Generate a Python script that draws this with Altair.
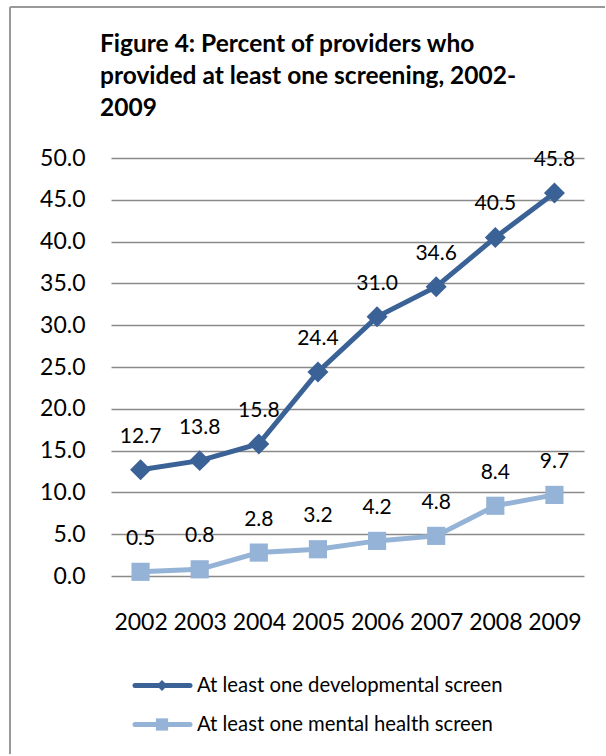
import altair as alt
import pandas as pd

# Survey years and the share of providers (%) offering each screening type
years = ["2002", "2003", "2004", "2005", "2006", "2007", "2008", "2009"]
developmental = [12.7, 13.8, 15.8, 24.4, 31.0, 34.6, 40.5, 45.8]
mental_health = [0.5, 0.8, 2.8, 3.2, 4.2, 4.8, 8.4, 9.7]

series_names = ["At least one developmental screen", "At least one mental health screen"]
series_colors = ["#3B6296", "#95B3D7"]
series_shapes = ["diamond", "square"]
y_ticks = [0, 5, 10, 15, 20, 25, 30, 35, 40, 45, 50]

title_lines = [
    "Figure 4: Percent of providers who",
    "provided at least one screening, 2002-",
    "2009",
]

FONT = "Lato"

rows = []
for name, vals in zip(series_names, [developmental, mental_health]):
    for yr, v in zip(years, vals):
        rows.append({"year": yr, "series": name, "value": v})
df = pd.DataFrame(rows)
legend_df = pd.DataFrame({"series": series_names})

color = alt.Color("series:N", scale=alt.Scale(domain=series_names, range=series_colors), legend=None)
shape = alt.Shape("series:N", scale=alt.Scale(domain=series_names, range=series_shapes), legend=None)

x = alt.X(
    "year:O",
    sort=years,
    axis=alt.Axis(
        title=None, labelAngle=0, ticks=False, domain=False, grid=False,
        labelPadding=35, labelFontSize=23, labelFont=FONT, labelColor="black",
    ),
)
y = alt.Y(
    "value:Q",
    scale=alt.Scale(domain=[0, 50], nice=False),
    axis=alt.Axis(
        title=None, values=y_ticks, format=".1f", ticks=False, domain=False,
        grid=True, gridColor="#8a8a8a", gridWidth=1.5,
        labelPadding=26, labelFontSize=23, labelFont=FONT, labelColor="black",
    ),
)

base = alt.Chart(df).encode(x=x, y=y)
lines = base.mark_line(strokeWidth=5).encode(color=color)
points = base.mark_point(filled=True, opacity=1).encode(
    color=color,
    shape=shape,
    size=alt.Size("series:N", scale=alt.Scale(domain=series_names, range=[440, 330]), legend=None),
)
labels = base.mark_text(
    dy=-27, baseline="alphabetic", align="center", fontSize=21, font=FONT, color="black"
).encode(text=alt.Text("value:Q", format=".1f"))

plot = alt.layer(lines, points, labels).properties(
    width=473,
    height=418,
    title=alt.TitleParams(
        text=title_lines, anchor="start", frame="group", dx=-11, offset=26,
        fontSize=24.5, font=FONT, fontWeight="bold", lineHeight=32, color="black",
    ),
)

# Legend drawn as its own small panel: line sample, marker and label per series
ly = alt.Y("series:N", sort=series_names,
           scale=alt.Scale(domain=series_names, type="point", padding=0.5), axis=None)
leg_line = alt.Chart(legend_df).mark_rule(strokeWidth=5, strokeCap="round").encode(
    x=alt.value(24), x2=alt.value(79), y=ly, color=color
)
leg_point = alt.Chart(legend_df).mark_point(filled=True, opacity=1).encode(
    x=alt.value(51), y=ly, color=color, shape=shape,
    size=alt.Size("series:N", scale=alt.Scale(domain=series_names, range=[120, 150]), legend=None),
)
leg_text = alt.Chart(legend_df).mark_text(
    align="left", baseline="middle", fontSize=20.3, font=FONT, color="black"
).encode(x=alt.value(86), y=ly, text="series:N")

# Chart-area frame (left and top edges), laid out from the legend panel's origin
one_row = alt.Data(values=[{}])
frame_left = alt.Chart(one_row).mark_rule(color="#999999", strokeWidth=2).encode(
    x=alt.value(-101), y=alt.value(-659), y2=alt.value(88)
)
frame_top = alt.Chart(one_row).mark_rule(color="#999999", strokeWidth=2).encode(
    x=alt.value(-101), x2=alt.value(494), y=alt.value(-659)
)

legend_panel = alt.layer(frame_left, frame_top, leg_line, leg_point, leg_text).properties(
    width=473, height=78
)

chart = (
    alt.vconcat(plot, legend_panel, spacing=90, bounds="flush")
    .resolve_scale(x="independent", y="independent", size="independent")
    .properties(padding={"left": 9, "top": 6, "right": 0, "bottom": 0}, background="white")
    .configure_view(stroke=None)
)

chart.save("out.html", embed_options={"renderer": "svg", "actions": False})
